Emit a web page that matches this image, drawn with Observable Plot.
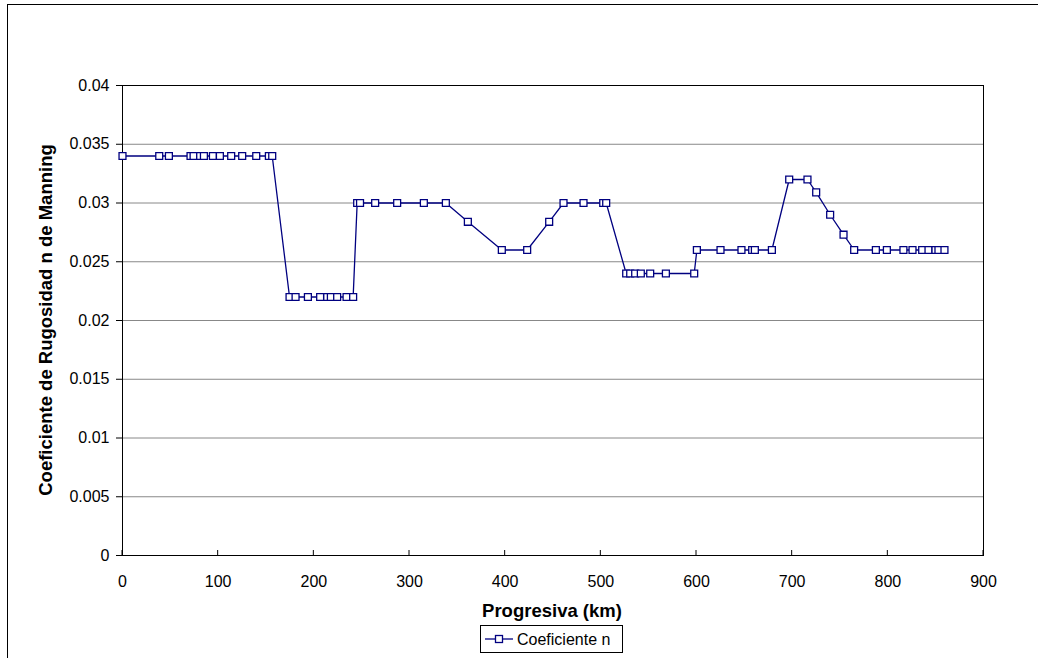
<!DOCTYPE html>
<html><head><meta charset="utf-8">
<script src="https://cdn.jsdelivr.net/npm/d3@7"></script>
<script src="https://cdn.jsdelivr.net/npm/@observablehq/plot@0.6"></script>
<style>
body{margin:0;background:#fff;}
#chart{position:relative;width:1038px;height:658px;overflow:hidden;}
</style>
</head><body><div id="chart"></div>
<script>
// Progresiva (km)
const progresiva = [
  0, 38.4, 48.5, 71.1, 74.3, 81.2, 85.1, 94.5, 101.8, 113.6, 125.1, 139.8, 153.0, 156.5,
  174.6, 180.9, 193.8, 206.6, 214.0, 217.8, 224.4, 234.2, 241.1,
  245.3, 248.3, 264.1, 287.1, 315.0, 338.0,
  361.0, 396.5, 423.0, 446.0,
  461.0, 481.9, 502.5, 505.6,
  526.5, 530.7, 535.9, 541.8, 551.6, 568.0, 597.6,
  600.4, 625.1, 647.0, 658.2, 661.0, 678.8,
  696.9, 716.0, 725.1, 739.7, 753.7,
  764.8, 787.5, 799.0, 816.3, 825.8, 835.9, 842.5, 849.8, 852.9, 859.2
];
// Coeficiente n
const coefN = [
  0.034, 0.034, 0.034, 0.034, 0.034, 0.034, 0.034, 0.034, 0.034, 0.034, 0.034, 0.034, 0.034, 0.034,
  0.022, 0.022, 0.022, 0.022, 0.022, 0.022, 0.022, 0.022, 0.022,
  0.030, 0.030, 0.030, 0.030, 0.030, 0.030,
  0.0284, 0.026, 0.026, 0.0284,
  0.030, 0.030, 0.030, 0.030,
  0.024, 0.024, 0.024, 0.024, 0.024, 0.024, 0.024,
  0.026, 0.026, 0.026, 0.026, 0.026, 0.026,
  0.032, 0.032, 0.0309, 0.029, 0.0273,
  0.026, 0.026, 0.026, 0.026, 0.026, 0.026, 0.026, 0.026, 0.026, 0.026
];
const xTicks = [0, 100, 200, 300, 400, 500, 600, 700, 800, 900];
const yTicks = [0, 0.005, 0.01, 0.015, 0.02, 0.025, 0.03, 0.035, 0.04];
const yTickLabels = ["0", "0.005", "0.01", "0.015", "0.02", "0.025", "0.03", "0.035", "0.04"];
const xTitle = "Progresiva (km)";
const yTitle = "Coeficiente de Rugosidad n de Manning";
const seriesName = "Coeficiente n";

const data = progresiva.map((x, i) => ({x, n: coefN[i]}));
const FONT = "'Liberation Sans', Arial, sans-serif";
const NAVY = "#000080";

const plot = Plot.plot({
  width: 1038, height: 658,
  marginLeft: 122, marginRight: 55, marginTop: 85, marginBottom: 103,
  style: {fontFamily: FONT, fontSize: "16px", color: "#000", background: "#fff"},
  x: {domain: [0, 900]},
  y: {domain: [0, 0.04]},
  marks: [
    Plot.gridY(yTicks.slice(1), {stroke: "#888", strokeOpacity: 1, strokeWidth: 1}),
    Plot.frame({stroke: "#000"}),
    Plot.axisX({ticks: xTicks, tickSize: 0, tickPadding: 20, label: null, tickFormat: d => String(d)}),
    Plot.axisY({ticks: yTicks, tickSize: 6, tickPadding: 7, label: null, tickFormat: (d, i) => yTickLabels[i]}),
    Plot.line(data, {x: "x", y: "n", stroke: NAVY, strokeWidth: 1.3}),
    Plot.dot(data, {x: "x", y: "n", symbol: "square", r: 3.9, stroke: NAVY, fill: "#fff", strokeWidth: 1.3})
  ]
});
document.getElementById("chart").appendChild(plot);

const svg = d3.select(plot);
const xScale = plot.scale("x");
// inside x tick marks (pointing up)
svg.append("g").selectAll("line").data(xTicks).join("line")
  .attr("x1", d => xScale.apply(d)).attr("x2", d => xScale.apply(d))
  .attr("y1", 555).attr("y2", 550).attr("stroke", "#000");

// outer chart border
svg.append("rect").attr("x", 7.5).attr("y", 4.5).attr("width", 1040).attr("height", 660)
  .attr("fill", "none").attr("stroke", "#000");

svg.append("text").attr("x", 45).attr("y", 320)
  .attr("transform", "rotate(-90,45,320)")
  .attr("text-anchor", "middle").attr("dominant-baseline", "central")
  .style("font", `bold 18.5px ${FONT}`).text(yTitle);

svg.append("text").attr("x", 552).attr("y", 610)
  .attr("text-anchor", "middle").attr("dominant-baseline", "central")
  .style("font", `bold 18.5px ${FONT}`).text(xTitle);

// legend
const lg = svg.append("g");
lg.append("rect").attr("x", 480.5).attr("y", 625.5).attr("width", 142).attr("height", 27)
  .attr("fill", "#fff").attr("stroke", "#000");
lg.append("line").attr("x1", 485).attr("x2", 513).attr("y1", 639).attr("y2", 639)
  .attr("stroke", NAVY).attr("stroke-width", 1.3);
lg.append("rect").attr("x", 495.5).attr("y", 635.5).attr("width", 7).attr("height", 7)
  .attr("fill", "#fff").attr("stroke", NAVY).attr("stroke-width", 1.3);
lg.append("text").attr("x", 517).attr("y", 639).attr("text-anchor", "start")
  .attr("dominant-baseline", "central")
  .style("font", `16px ${FONT}`).text(seriesName);
</script>
</body></html>
